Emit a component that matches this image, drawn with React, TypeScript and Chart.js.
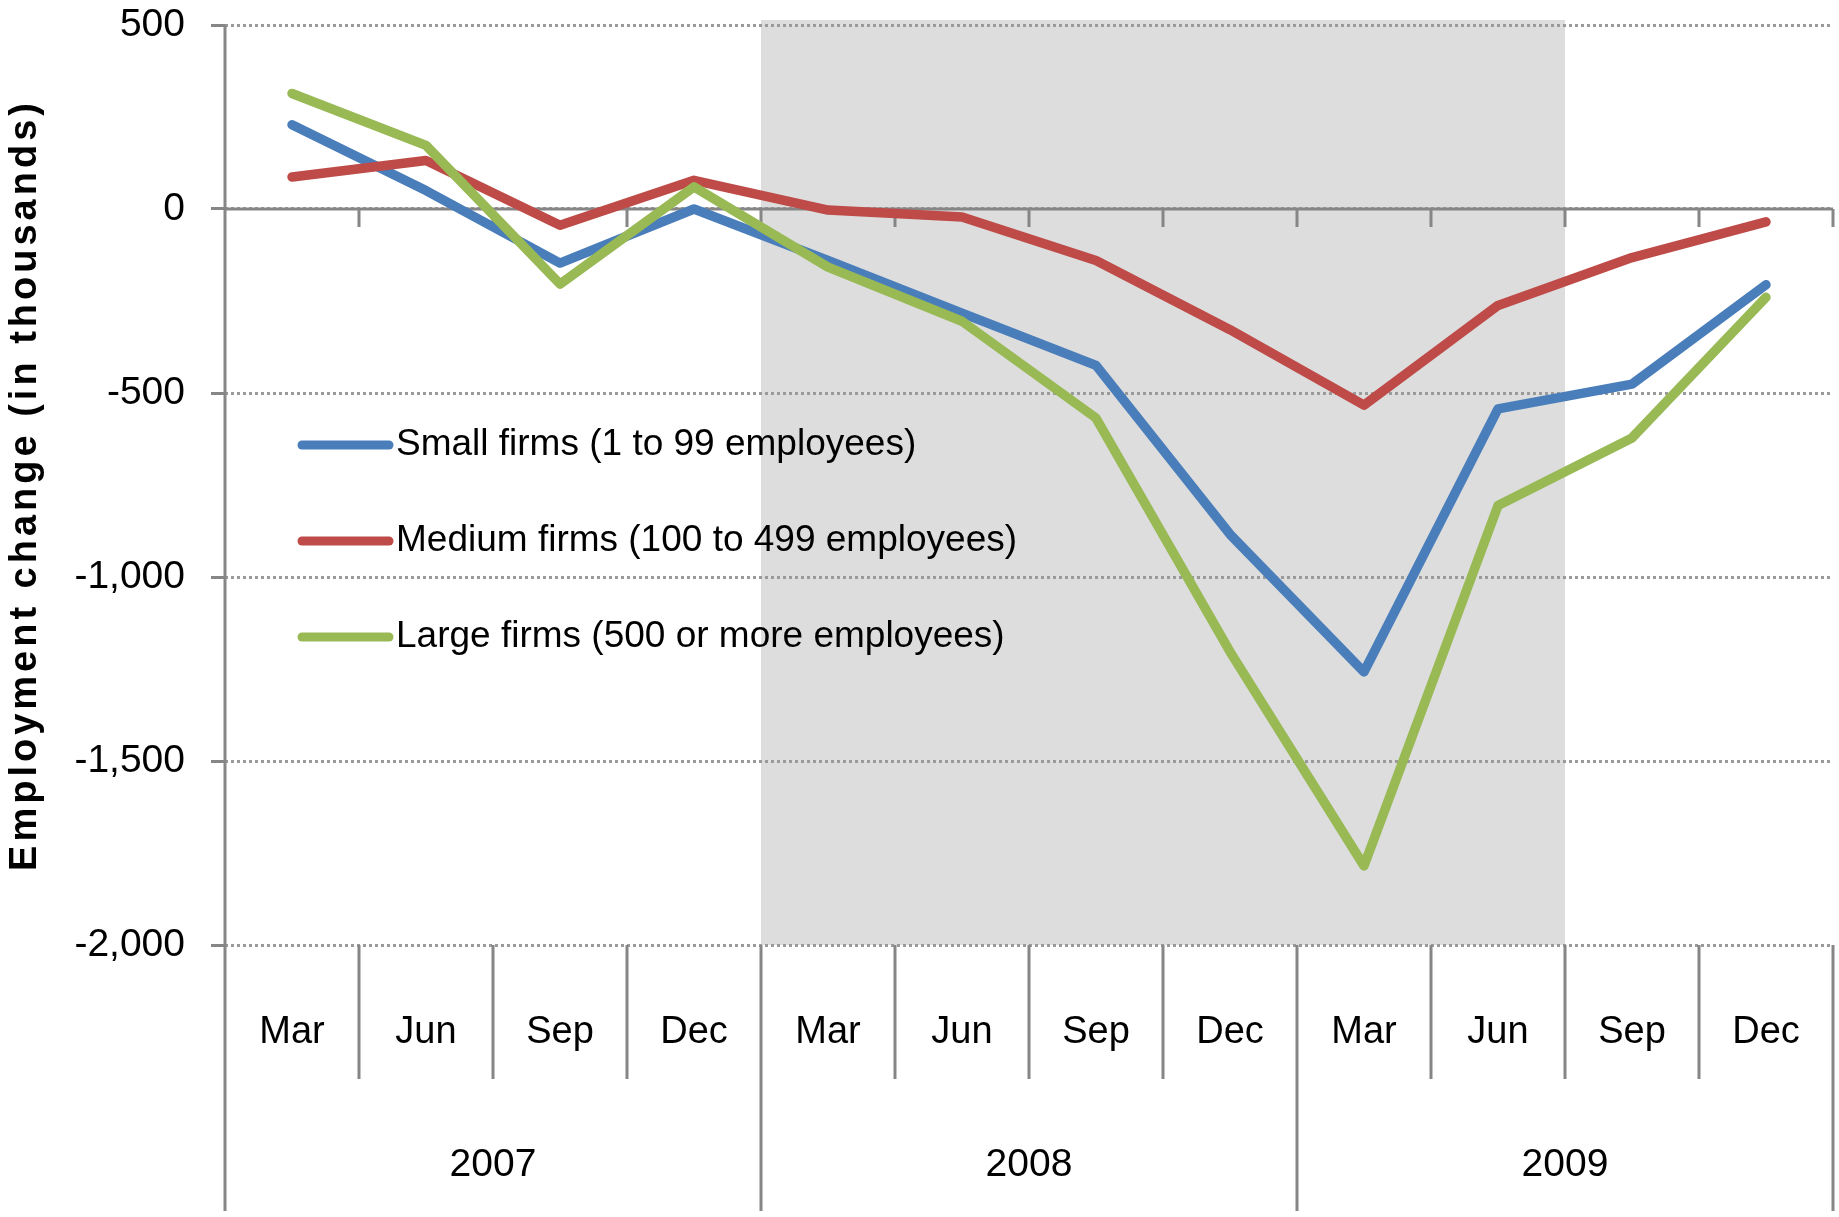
import React, { useEffect, useRef } from "react";
import { Chart, registerables } from "chart.js";

Chart.register(...registerables);

const months = ["Mar", "Jun", "Sep", "Dec", "Mar", "Jun", "Sep", "Dec", "Mar", "Jun", "Sep", "Dec"];
const years = ["2007", "2008", "2009"];
const smallFirms = [229, 50, -147, 0, -140, -283, -425, -884, -1258, -543, -476, -206];
const mediumFirms = [87, 132, -44, 78, -3, -22, -140, -328, -533, -262, -132, -35];
const largeFirms = [314, 173, -204, 60, -158, -305, -568, -1203, -1785, -806, -622, -240];
const seriesNames = [
  "Small firms (1 to 99 employees)",
  "Medium firms (100 to 499 employees)",
  "Large firms (500 or more employees)",
];
const seriesColors = ["#4A7EBB", "#BE4B48", "#98B954"];
const yMin = -2000;
const yMax = 500;
const yStep = 500;
const recessionFirst = 4; // Mar 2008
const recessionLast = 9; // Jun 2009
const yTitle = "Employment change (in thousands)";

const FONT = "'Liberation Sans', Arial, sans-serif";
const AXIS = "#868686";
const W = 1839;
const H = 1217;

const decor = {
  id: "decor",
  beforeDraw(chart: any) {
    const { ctx, chartArea, scales } = chart;
    const x = scales.x;
    const y = scales.y;
    const half = (x.getPixelForValue(1) - x.getPixelForValue(0)) / 2;
    const x0 = x.getPixelForValue(recessionFirst) - half;
    const x1 = x.getPixelForValue(recessionLast) + half;
    const top = chartArea.top - 5;
    ctx.save();
    ctx.fillStyle = "#DDDDDD";
    ctx.fillRect(x0, top, x1 - x0, y.getPixelForValue(yMin) - top);
    ctx.restore();
  },
  beforeDatasetsDraw(chart: any) {
    const { ctx, chartArea, scales } = chart;
    const x = scales.x;
    const y = scales.y;
    const n = months.length;
    const half = (x.getPixelForValue(1) - x.getPixelForValue(0)) / 2;
    const bound = (i: number) => x.getPixelForValue(i) - half;
    const yZero = y.getPixelForValue(0);
    const yBottom = y.getPixelForValue(yMin);
    ctx.save();
    ctx.strokeStyle = AXIS;
    ctx.lineWidth = 3;
    ctx.lineCap = "butt";
    // zero axis line with ticks
    ctx.beginPath();
    ctx.moveTo(bound(0), yZero);
    ctx.lineTo(bound(n), yZero);
    for (let i = 1; i <= n; i++) {
      ctx.moveTo(bound(i), yZero);
      ctx.lineTo(bound(i), yZero + 18);
    }
    ctx.stroke();
    // left axis line
    ctx.beginPath();
    ctx.moveTo(bound(0), chartArea.top);
    ctx.lineTo(bound(0), 1211);
    ctx.stroke();
    // separators below the plot
    ctx.beginPath();
    for (let i = 1; i <= n; i++) {
      const isYear = i % 4 === 0;
      ctx.moveTo(bound(i), yBottom);
      ctx.lineTo(bound(i), isYear ? 1211 : 1079);
    }
    ctx.stroke();
    // labels
    ctx.fillStyle = "#000000";
    ctx.textAlign = "center";
    ctx.textBaseline = "middle";
    ctx.font = `38px ${FONT}`;
    months.forEach((m, i) => ctx.fillText(m, x.getPixelForValue(i), 1033));
    ctx.font = `39px ${FONT}`;
    years.forEach((yr, k) => {
      const cx = (x.getPixelForValue(k * 4) + x.getPixelForValue(k * 4 + 3)) / 2;
      ctx.fillText(yr, cx, 1165);
    });
    // y title
    ctx.save();
    ctx.translate(26, (chartArea.top + yBottom) / 2);
    ctx.rotate(-Math.PI / 2);
    ctx.font = `bold 38px ${FONT}`;
    try {
      (ctx as any).letterSpacing = "4px";
    } catch (e) {}
    ctx.fillText(yTitle, 0, 0);
    ctx.restore();
    ctx.restore();
  },
  afterDatasetsDraw(chart: any) {
    const { ctx } = chart;
    const ys = [445, 541, 637];
    ctx.save();
    chart.data.datasets.forEach((ds: any, i: number) => {
      ctx.strokeStyle = ds.borderColor;
      ctx.lineWidth = 9;
      ctx.lineCap = "round";
      ctx.beginPath();
      ctx.moveTo(302, ys[i]);
      ctx.lineTo(389, ys[i]);
      ctx.stroke();
      ctx.fillStyle = "#000000";
      ctx.font = `37px ${FONT}`;
      ctx.textAlign = "left";
      ctx.textBaseline = "middle";
      ctx.fillText(ds.label, 396, ys[i]);
    });
    ctx.restore();
  },
};

export default function App() {
  const ref = useRef<HTMLCanvasElement | null>(null);
  useEffect(() => {
    document.body.style.margin = "0";
    const canvas = ref.current;
    if (!canvas) return;
    const seriesData = [smallFirms, mediumFirms, largeFirms];
    const chart = new Chart(canvas, {
      type: "line",
      data: {
        labels: months,
        datasets: seriesData.map((d, i) => ({
          label: seriesNames[i],
          data: d,
          borderColor: seriesColors[i],
          backgroundColor: seriesColors[i],
          borderWidth: 9.5,
          pointRadius: 0,
          tension: 0,
          borderJoinStyle: "round" as const,
          borderCapStyle: "round" as const,
          order: 2 - i,
        })),
      },
      options: {
        responsive: false,
        animation: false,
        devicePixelRatio: 1,
        layout: { padding: { top: 25, right: 6, left: 0, bottom: 0 } },
        plugins: {
          legend: { display: false },
          tooltip: { enabled: false },
          title: { display: false },
        },
        scales: {
          x: {
            type: "category",
            offset: true,
            grid: { display: false },
            border: { display: false },
            ticks: { display: false },
            afterFit: (s: any) => {
              s.height = 272;
              s.paddingLeft = 0;
              s.paddingRight = 0;
            },
          },
          y: {
            min: yMin,
            max: yMax,
            border: { display: false, dash: [3, 3] },
            grid: {
              color: "#9A9A9A",
              lineWidth: 3,
              drawTicks: true,
              tickLength: 14,
              tickColor: AXIS,
              tickWidth: 3,
              tickBorderDash: [],
            },
            ticks: {
              stepSize: yStep,
              padding: 26,
              color: "#000000",
              font: { family: FONT, size: 39 },
              callback: (v: any) => Number(v).toLocaleString("en-US"),
            },
            afterFit: (s: any) => {
              s.width = 225;
              s.paddingTop = 0;
              s.paddingBottom = 0;
            },
          },
        },
      },
      plugins: [decor],
    });
    return () => chart.destroy();
  }, []);
  return (
    <div style={{ width: W, height: H }}>
      <canvas ref={ref} width={W} height={H} style={{ display: "block" }} />
    </div>
  );
}
